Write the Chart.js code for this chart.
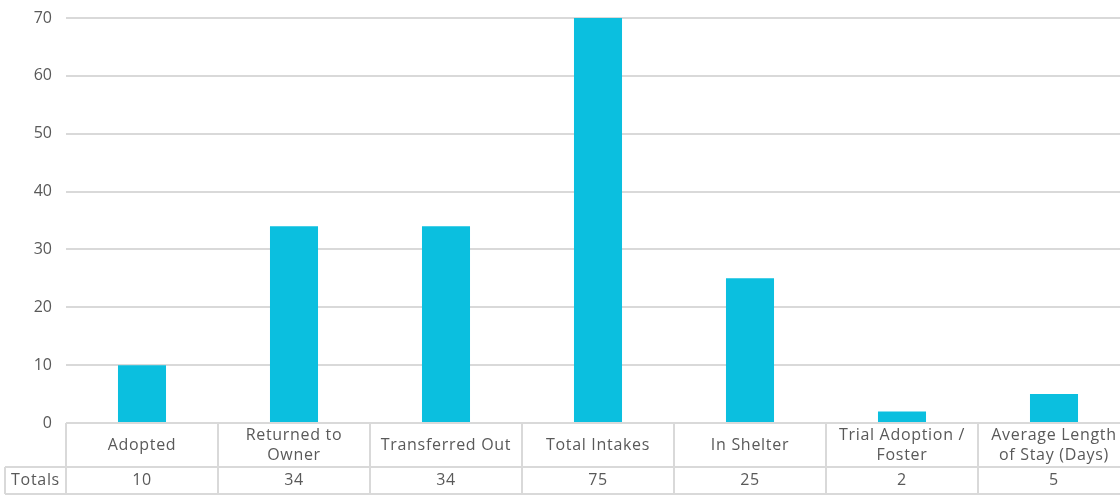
<!DOCTYPE html>
<html>
<head>
    <title>Shelter Totals</title>
    <style>
        body { margin: 0; background: #fff; overflow: hidden; }
        canvas { display: block; }
    </style>
    <script src="https://cdn.jsdelivr.net/npm/chart.js"></script>
</head>
<body>
<canvas id="chart" width="1140" height="496"></canvas>
<script>
const categories = [
    ['Adopted'],
    ['Returned to', 'Owner'],
    ['Transferred Out'],
    ['Total Intakes'],
    ['In Shelter'],
    ['Trial Adoption /', 'Foster'],
    ['Average Length', 'of Stay (Days)']
];
const totals = [10, 34, 34, 75, 25, 2, 5];
const yTicks = [0, 10, 20, 30, 40, 50, 60, 70];

const FONT = '"Open Sans", sans-serif';
const TEXT = '#595959';
const LINE = '#d9d9d9';

const dataTable = {
    id: 'dataTable',
    afterDraw(chart) {
        const ctx = chart.ctx;
        const x = chart.scales.x;
        const area = chart.chartArea;
        const top = area.bottom;
        const mid = top + 44;
        const bot = top + 71;
        const step = x.getPixelForValue(1) - x.getPixelForValue(0);
        const left = x.getPixelForValue(0) - step / 2;
        const right = x.getPixelForValue(categories.length - 1) + step / 2;
        const labelLeft = 5;

        ctx.save();
        ctx.strokeStyle = LINE;
        ctx.lineWidth = 2;
        ctx.beginPath();
        ctx.moveTo(left, top); ctx.lineTo(right, top);
        ctx.moveTo(labelLeft, mid); ctx.lineTo(right, mid);
        ctx.moveTo(labelLeft, bot); ctx.lineTo(right, bot);
        ctx.moveTo(labelLeft, mid); ctx.lineTo(labelLeft, bot);
        for (let i = 0; i <= categories.length; i++) {
            const px = left + i * step;
            ctx.moveTo(px, top); ctx.lineTo(px, bot);
        }
        ctx.stroke();

        ctx.fillStyle = TEXT;
        ctx.font = '16px ' + FONT;
        ctx.letterSpacing = '0.7px';
        ctx.textAlign = 'center';
        ctx.textBaseline = 'middle';
        categories.forEach((lines, i) => {
            const cx = x.getPixelForValue(i);
            const cy = (top + mid) / 2;
            const lh = 20;
            lines.forEach((t, j) => {
                ctx.fillText(t, cx, cy + (j - (lines.length - 1) / 2) * lh);
            });
            ctx.fillText(String(totals[i]), cx, (mid + bot) / 2);
        });
        ctx.fillText('Totals', (labelLeft + left) / 2, (mid + bot) / 2);
        ctx.restore();
    }
};

new Chart(document.getElementById('chart'), {
    type: 'bar',
    data: {
        labels: categories.map(c => c.join(' ')),
        datasets: [{
            data: totals,
            backgroundColor: '#0bbfdf',
            categoryPercentage: 1,
            barPercentage: 0.316
        }]
    },
    options: {
        responsive: false,
        animation: false,
        layout: { padding: { top: 18, bottom: 73, left: 0, right: 10 } },
        plugins: { legend: { display: false }, tooltip: { enabled: false } },
        scales: {
            x: { display: false },
            y: {
                min: 0, max: 70,
                afterFit(scale) {
                    scale.width = 66;
                    scale.paddingTop = 0;
                    scale.paddingBottom = 0;
                },
                afterBuildTicks(scale) { scale.ticks = yTicks.map(v => ({ value: v })); },
                border: { display: false },
                grid: { color: LINE, lineWidth: 2, drawTicks: false },
                ticks: { color: TEXT, padding: 14, font: { family: FONT, size: 16 } }
            }
        }
    },
    plugins: [dataTable]
});
</script>
</body>
</html>
